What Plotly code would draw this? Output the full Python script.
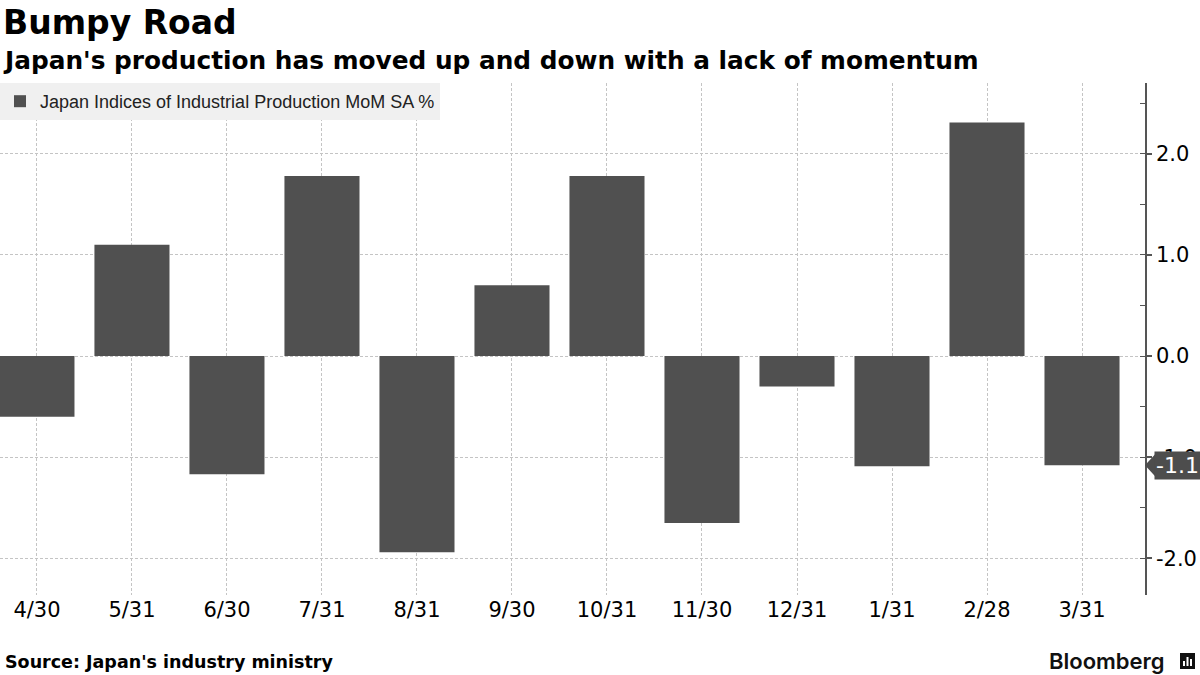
import plotly.graph_objects as go

# ---- data ----
dates = ["4/30", "5/31", "6/30", "7/31", "8/31", "9/30",
         "10/31", "11/30", "12/31", "1/31", "2/28", "3/31"]
mom_pct = [-0.6, 1.1, -1.17, 1.78, -1.94, 0.7, 1.78, -1.65, -0.3, -1.09, 2.31, -1.08]
y_tickvals = [-2, -1, 0, 1, 2]
y_ticktext = ["-2.0", "-1.0", "0.0", "1.0", "2.0"]
series_name = "Japan Indices of Industrial Production MoM SA %"
title_text = "Bumpy Road"
subtitle_text = "Japan's production has moved up and down with a lack of momentum"
source_text = "Source: Japan's industry ministry"

W, H = 1200, 675
ML, MR, MT, MB = 0, 55, 83, 80
PW, PH = W - ML - MR, H - MT - MB
Y0, Y1 = -2.363, 2.70

def px_x(px):
    return (px - ML) / PW

def px_y(py):
    return (H - MB - py) / PH

BAR = "#505050"
GRID = "#c4c4c4"
FONT = "DejaVu Sans"

fig = go.Figure()
fig.add_trace(go.Bar(
    x=dates, y=mom_pct, name=series_name,
    marker=dict(color=BAR, line=dict(width=0)),
    width=0.79, showlegend=True,
))

fig.update_layout(
    width=W, height=H,
    margin=dict(l=ML, r=MR, t=MT, b=MB, autoexpand=False),
    paper_bgcolor="white", plot_bgcolor="white",
    showlegend=True,
    legend=dict(
        x=0, y=1, xanchor="left", yanchor="top",
        bgcolor="#f0f0f0", borderwidth=0,
        font=dict(family="Liberation Sans", size=18, color="#222"),
        itemwidth=30, tracegroupgap=0,
    ),
    xaxis=dict(
        type="category", range=[-0.389, 11.663], automargin=False,
        showgrid=True, gridcolor=GRID, griddash="3px,2px", gridwidth=1,
        ticks="", showline=False, zeroline=False,
        tickfont=dict(family=FONT, size=21, color="#000"),
    ),
    yaxis=dict(
        side="right", range=[Y0, Y1], automargin=False,
        tickmode="array", tickvals=y_tickvals, ticktext=y_ticktext,
        showgrid=True, gridcolor=GRID, griddash="3px,2px", gridwidth=1,
        zeroline=False,
        showline=True, linecolor="#555", linewidth=1.5,
        ticks="outside", ticklen=5, tickwidth=2, tickcolor="#555",
        minor=dict(dtick=0.5, tick0=0, ticks="inside", ticklen=5, tickcolor="#555",
                   tickwidth=1, showgrid=False),
        tickfont=dict(family=FONT, size=21, color="#000"),
    ),
)

# last-value label on the axis
last_val = mom_pct[-1]
last_label = f"{round(last_val, 1):.1f}"
fig.add_annotation(
    xref="paper", yref="y", x=px_x(1154), y=last_val,
    xanchor="left", yanchor="middle", text=last_label, showarrow=False,
    font=dict(family=FONT, size=22, color="white"),
    bgcolor="#4d4d4d", borderpad=1,
)
tip_x = px_x(1145)
base_x = px_x(1156)
dy = 12 / PH * (Y1 - Y0)
fig.add_shape(
    type="path", xref="paper", yref="y", layer="above",
    path=f"M {tip_x},{last_val} L {base_x},{last_val + dy} L {base_x},{last_val - dy} Z",
    fillcolor="#4d4d4d", line=dict(width=0),
)

# titles
fig.add_annotation(xref="paper", yref="paper", x=px_x(1), y=px_y(22),
                   xanchor="left", yanchor="middle", showarrow=False,
                   text=f"<b>{title_text}</b>",
                   font=dict(family=FONT, size=33, color="#000"))
fig.add_annotation(xref="paper", yref="paper", x=px_x(1), y=px_y(60),
                   xanchor="left", yanchor="middle", showarrow=False,
                   text=f"<b>{subtitle_text}</b>",
                   font=dict(family=FONT, size=24.8, color="#000"))
fig.add_annotation(xref="paper", yref="paper", x=px_x(3), y=px_y(662),
                   xanchor="left", yanchor="middle", showarrow=False,
                   text=f"<b>{source_text}</b>",
                   font=dict(family=FONT, size=17.5, color="#000"))
fig.add_annotation(xref="paper", yref="paper", x=px_x(1167), y=px_y(661),
                   xanchor="right", yanchor="middle", showarrow=False,
                   text="Bloomberg",
                   font=dict(family="Inter", size=22, color="#111", weight=600))
# small logo glyph
fig.add_shape(type="rect", xref="paper", yref="paper",
              x0=px_x(1180), x1=px_x(1195), y0=px_y(669), y1=px_y(653),
              fillcolor="#111", line=dict(width=0), layer="above")
for bx0, btop in [(1183, 661), (1186.5, 657), (1190, 659)]:
    fig.add_shape(type="rect", xref="paper", yref="paper",
                  x0=px_x(bx0), x1=px_x(bx0 + 2), y0=px_y(666), y1=px_y(btop),
                  fillcolor="white", line=dict(width=0), layer="above")

fig.write_html("out.html", config={"displayModeBar": False},
               post_script="document.body.style.margin='0';document.body.style.padding='0';")
